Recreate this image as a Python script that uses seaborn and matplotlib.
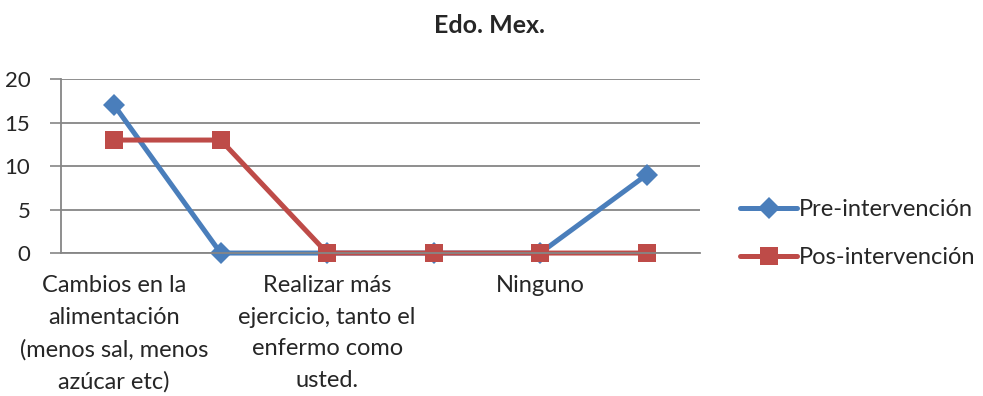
import numpy as np
import pandas as pd
import matplotlib
matplotlib.use("Agg")
import matplotlib.pyplot as plt
import seaborn as sns
from matplotlib.ticker import FixedLocator

# Response options (only every other label is printed on the axis)
categories = [
    "Cambios en la\nalimentación\n(menos sal, menos\nazúcar etc)",
    "",
    "Realizar más\nejercicio, tanto el\nenfermo como\nusted.",
    "",
    "Ninguno",
    "",
]
pre_values = [17, 0, 0, 0, 0, 9]
pos_values = [13, 13, 0, 0, 0, 0]
series_names = ["Pre-intervención", "Pos-intervención"]
y_ticks = [0, 5, 10, 15, 20]

blue = "#4A7EBB"
red = "#BE4B48"
grey = "#868686"

sns.set_theme(style="white")
plt.rcParams["font.family"] = ["Lato", "DejaVu Sans"]

positions = np.arange(len(categories))
df = pd.DataFrame({
    "pos": np.concatenate([positions, positions]),
    "value": pre_values + pos_values,
    "serie": [series_names[0]] * len(categories) + [series_names[1]] * len(categories),
})

fig = plt.figure(figsize=(9.83, 3.96), dpi=100)
ax = fig.add_axes([0.062, 0.361, 0.650, 0.439])

sns.lineplot(
    data=df, x="pos", y="value", hue="serie", style="serie",
    palette={series_names[0]: blue, series_names[1]: red},
    markers={series_names[0]: "D", series_names[1]: "s"},
    dashes=False, linewidth=3.6, markersize=11.5, markeredgewidth=0,
    ax=ax, legend=True,
)
# square markers are a bit larger than diamonds; keep markers on the axis unclipped
for line in ax.get_lines():
    line.set_clip_on(False)
    if line.get_marker() == "s":
        line.set_markersize(13.5)

ax.set_xlim(-0.5, len(categories) - 0.5)
ax.set_ylim(0, 20)
ax.set_yticks(y_ticks)
ax.set_yticklabels([str(v) for v in y_ticks], fontsize=16)
ax.set_xticks(positions)
ax.set_xticklabels(categories, fontsize=17, linespacing=1.62)
ax.xaxis.set_minor_locator(FixedLocator(np.arange(-0.5, len(categories), 1.0)))
ax.tick_params(axis="x", which="major", length=0, pad=16)
ax.tick_params(axis="x", which="minor", length=6, width=1.2, color=grey, direction="out")
ax.tick_params(axis="y", length=8, width=1.2, color=grey, direction="out", left=True, pad=14)
ax.set_xlabel("")
ax.set_ylabel("")
ax.yaxis.grid(True, color=grey, linewidth=1.3)
ax.set_axisbelow(True)
for side in ("top", "right"):
    ax.spines[side].set_visible(False)
for side in ("left", "bottom"):
    ax.spines[side].set_color(grey)
    ax.spines[side].set_linewidth(1.3)

ax.set_title("Edo. Mex.", fontsize=18, fontweight="bold", pad=33, x=0.67)

handles, labels = ax.get_legend_handles_labels()
ax.legend(
    handles, labels, loc="center left", bbox_to_anchor=(1.03, 0.11),
    frameon=False, fontsize=17, handlelength=2.4, handletextpad=0.1,
    labelspacing=1.15,
)

fig.savefig("out.png", dpi=100)
